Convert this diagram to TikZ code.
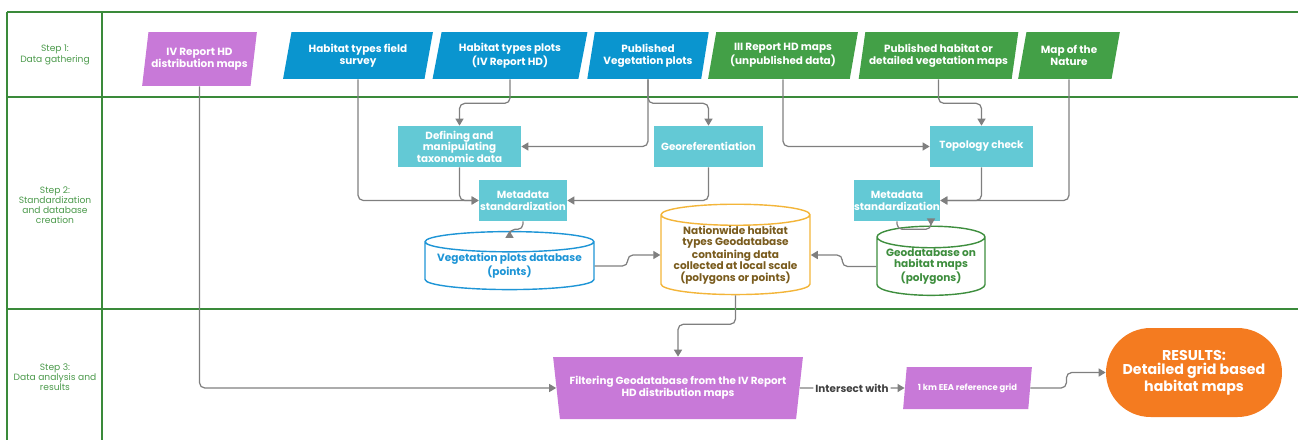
\documentclass[tikz,border=0pt]{standalone}
\usepackage{fontspec}
\setmainfont{Poppins}
\usetikzlibrary{shapes.geometric,arrows.meta}

\definecolor{lane}{HTML}{3A8A3A}
\definecolor{steptxt}{HTML}{4C9A4C}
\definecolor{hdviolet}{HTML}{C879D8}
\definecolor{srcblue}{HTML}{0A95CF}
\definecolor{srcgreen}{HTML}{43A047}
\definecolor{proc}{HTML}{63C9D5}
\definecolor{result}{HTML}{F47B20}
\definecolor{dbblue}{HTML}{1E95D6}
\definecolor{dbgold}{HTML}{F3B539}
\definecolor{dbbrown}{HTML}{7A5C1E}
\definecolor{dbgreen}{HTML}{3E8E3E}
\definecolor{conncol}{HTML}{7F7F7F}

\begin{document}
\begin{tikzpicture}[x=0.02cm,y=-0.02cm]
\useasboundingbox (0,0) rectangle (1298,440);

% lanes
\begin{scope}[draw=lane, line width=0.8pt]
\draw (7,12) -- (1298,12);
\draw (7,97) -- (1298,97);
\draw (7,309) -- (1298,309);
\draw (7,12) -- (7,440);
\draw (102,12) -- (102,440);
\end{scope}

\begin{scope}[every node/.style={text=steptxt, align=center, font=\fontsize{5.2}{5.8}\selectfont}]
\node (step1) at (55,55) {Step 1:\\Data gathering};
\node (step2) at (55,205) {Step 2:\\Standardization\\and database\\creation};
\node (step3) at (55,377) {Step 3:\\Data analysis and\\results};
\end{scope}

% data sources
\begin{scope}[every node/.style={trapezium, trapezium left angle=75, trapezium right angle=105,
    trapezium stretches=true, minimum height=0.94cm, inner sep=0pt, text=white, align=center,
    font=\fontsize{5.95}{7}\selectfont\bfseries}]
\node[fill=hdviolet, minimum width=2.3cm, minimum height=1.08cm] (ivr) at (199.5,59) {IV Report HD\\distribution maps};
\node[fill=srcblue, minimum width=3cm] (survey) at (358,55.5) {Habitat types field\\survey};
\node[fill=srcblue, minimum width=3.12cm] (plots) at (510,55.5) {Habitat types plots\\(IV Report HD)};
\node[fill=srcblue, minimum width=2.44cm] (pubveg) at (648,55.5) {Published\\Vegetation plots};
\node[fill=srcgreen, minimum width=3cm] (iii) at (783,55.5) {III Report HD maps\\(unpublished data)};
\node[fill=srcgreen, minimum width=3.22cm] (pubhab) at (938.5,55.5) {Published habitat or\\detailed vegetation maps};
\node[fill=srcgreen, minimum width=2.04cm] (nature) at (1069,55.5) {Map of the\\Nature};
\end{scope}

% processing
\begin{scope}[every node/.style={rectangle, fill=proc, text=white, align=center, inner sep=0pt,
    minimum height=0.82cm, font=\fontsize{5.9}{6.6}\selectfont\bfseries}]
\node[minimum width=2.46cm] (def) at (459.5,146.5) {Defining and\\manipulating\\taxonomic data};
\node[minimum width=2.18cm] (georef) at (708.5,146.5) {Georeferentiation};
\node[minimum width=1.76cm] (metaL) at (523,200.5) {Metadata\\standardization};
\node[minimum width=2.06cm] (topo) at (981.5,146.5) {Topology check};
\node[minimum width=1.72cm] (metaR) at (897,200.5) {Metadata\\standardization};
\end{scope}

% databases
\begin{scope}[every node/.style={cylinder, shape border rotate=90, draw, line width=0.8pt, fill=white,
    align=center, inner sep=0pt, font=\fontsize{6}{6.4}\selectfont\bfseries}]
\node[draw=dbblue, text=dbblue, minimum width=3.38cm, minimum height=1.16cm, aspect=0.14] (vegdb) at (509.5,266) {Vegetation plots database\\(points)};
\node[draw=dbgold, text=dbbrown, minimum width=2.98cm, minimum height=1.8cm, aspect=0.17] (natdb) at (735.5,255) {Nationwide habitat\\types Geodatabase\\containing data\\collected at local scale\\(polygons or points)};
\node[draw=dbgreen, text=dbgreen, minimum width=2.16cm, minimum height=1.18cm, aspect=0.24] (geodb) at (931,266.5) {Geodatabase on\\habitat maps\\(polygons)};
\end{scope}

% results
\node[trapezium, trapezium left angle=105, trapezium right angle=105, trapezium stretches=true,
    fill=hdviolet, minimum width=5cm, minimum height=1.24cm, inner sep=0pt, text=white, align=center,
    font=\fontsize{5.9}{7}\selectfont\bfseries] (filter) at (678,388) {Filtering Geodatabase from the IV Report\\HD distribution maps};
\node[text=black!75, font=\fontsize{5.9}{7}\selectfont\bfseries, inner sep=1pt] (isect) at (852,388) {Intersect with};
\node[trapezium, trapezium left angle=72, trapezium right angle=108, trapezium stretches=true,
    fill=hdviolet, minimum width=2.58cm, minimum height=0.84cm, inner sep=0pt, text=white,
    font=\fontsize{4.8}{5.6}\selectfont\bfseries] (grid) at (967.5,388) {1 km EEA reference grid};
\node[fill=result, rounded corners=0.89cm, minimum width=3.52cm, minimum height=1.78cm, align=center,
    text=white, font=\fontsize{8.1}{8.1}\selectfont\bfseries] (res) at (1194,372.5) {RESULTS:\\Detailed grid based\\habitat maps};

\begin{scope}[draw=conncol, line width=0.7pt, rounded corners=3pt, -{Triangle[length=4pt,width=4.6pt]}]
\draw (ivr.south) |- (filter.west);
\draw (survey.south) |- (metaL.west);
\draw (plots.south) -- ++(0,24) -| (def.north);
\draw (pubveg.south) |- (def.east);
\draw (pubveg.south) -- ++(0,24) -| (georef.north);
\draw (def.south) |- (metaL.west);
\draw (georef.south) |- (metaL.east);
\draw (metaL.south) -- ++(0,8) -| (vegdb.north);
\draw (iii.south) |- (topo.west);
\draw (pubhab.south) -- ++(0,24) -| (topo.north);
\draw (topo.south) |- (metaR.east);
\draw (nature.south) |- (metaR.east);
\draw (metaR.south) -- ++(0,8) -| (geodb.north);
\draw (vegdb.east) -- ++(33,0) |- (natdb.west);
\draw (geodb.west) -- ++(-34,0) |- (natdb.east);
\draw (natdb.south) -- ++(0,29) -| (filter.north);
\draw[-] (filter.east) -- (isect.west);
\draw (isect.east) -- (grid.west);
\draw (grid.east) -- ++(36,0) |- (res.west);
\end{scope}
\end{tikzpicture}
\end{document}
